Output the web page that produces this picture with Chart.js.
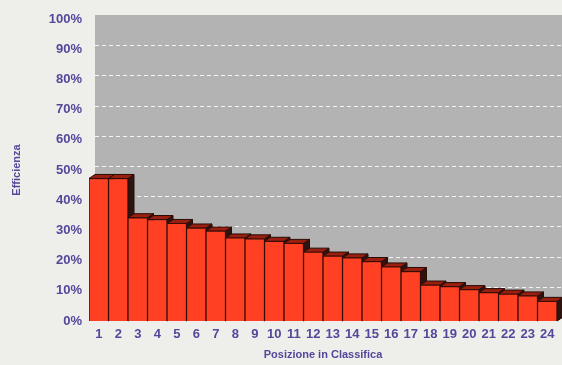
<!DOCTYPE html>
<html>
<head>
<meta charset="utf-8">
<script src="https://cdn.jsdelivr.net/npm/chart.js@4"></script>
<style>
  body { margin: 0; background: #eeeeeb; }
  #wrap { width: 562px; height: 365px; }
</style>
</head>
<body>
<div id="wrap"><canvas id="myChart"></canvas></div>
<script>
// positions in classifica
var categories = ['1','2','3','4','5','6','7','8','9','10','11','12','13','14','15','16','17','18','19','20','21','22','23','24'];
// efficienza (%)
var efficienza = [47.2, 47.2, 34.2, 33.6, 32.3, 30.8, 29.8, 27.5, 27.2, 26.4, 25.7, 22.8, 21.5, 20.9, 19.7, 17.9, 16.4, 11.9, 11.4, 10.4, 9.4, 8.9, 8.3, 6.5];
var yTicks = [0, 10, 20, 30, 40, 50, 60, 70, 80, 90, 100];

var DX = 6, DY = 4;
var textColor = '#54479a';

// back wall, floor and 3d faces of the bars
var depth3d = {
  id: 'depth3d',
  beforeDatasetsDraw: function(chart){
    var ctx = chart.ctx, ca = chart.chartArea, ys = chart.scales.y;
    ctx.save();
    ctx.fillStyle = '#b3b3b3';
    ctx.fillRect(ca.left + DX, ca.top - DY, ca.right - ca.left, ca.bottom - ca.top);
    ctx.strokeStyle = 'rgba(255,255,255,0.85)';
    ctx.lineWidth = 1;
    ctx.setLineDash([4, 3]);
    yTicks.forEach(function(v){
      if (v == 0 || v == 100) return;
      var y = Math.round(ys.getPixelForValue(v) - DY) + 0.5;
      ctx.beginPath();
      ctx.moveTo(ca.left + DX, y);
      ctx.lineTo(ca.right + DX, y);
      ctx.stroke();
    });
    ctx.setLineDash([]);
    // floor
    ctx.fillStyle = '#3a2a26';
    ctx.beginPath();
    ctx.moveTo(ca.left, ca.bottom);
    ctx.lineTo(ca.left + DX, ca.bottom - DY);
    ctx.lineTo(ca.right + DX, ca.bottom - DY);
    ctx.lineTo(ca.right, ca.bottom);
    ctx.closePath();
    ctx.fill();

    var meta = chart.getDatasetMeta(0);
    ctx.strokeStyle = '#2a0c06';
    meta.data.forEach(function(bar){
      var l = bar.x - bar.width / 2, r = bar.x + bar.width / 2, t = bar.y, b = bar.base;
      // side
      ctx.fillStyle = '#2e1410';
      ctx.beginPath();
      ctx.moveTo(r, t);
      ctx.lineTo(r + DX, t - DY);
      ctx.lineTo(r + DX, b - DY);
      ctx.lineTo(r, b);
      ctx.closePath();
      ctx.fill();
      ctx.stroke();
      // top
      ctx.fillStyle = '#9a1f10';
      ctx.beginPath();
      ctx.moveTo(l, t);
      ctx.lineTo(l + DX, t - DY);
      ctx.lineTo(r + DX, t - DY);
      ctx.lineTo(r, t);
      ctx.closePath();
      ctx.fill();
      ctx.stroke();
    });
    ctx.restore();
  }
};

var ctx = document.getElementById('myChart').getContext('2d');
var myChart = new Chart(ctx, {
  type: 'bar',
  data: {
    labels: categories,
    datasets: [{
      label: 'Efficienza',
      data: efficienza,
      backgroundColor: '#ff4022',
      borderColor: '#3a0e06',
      borderWidth: 1,
      categoryPercentage: 1,
      barPercentage: 1
    }]
  },
  options: {
    responsive: true,
    maintainAspectRatio: false,
    animation: false,
    layout: { padding: { top: 19, right: 5, bottom: 0, left: 0 } },
    plugins: {
      legend: { display: false },
      tooltip: { enabled: false }
    },
    scales: {
      x: {
        grid: { display: false, drawTicks: false },
        border: { display: false },
        ticks: { color: textColor, padding: 6, maxRotation: 0, autoSkip: false, font: { family: 'Arial, "Liberation Sans"', size: 13, weight: 'bold' } },
        title: { display: true, text: 'Posizione in Classifica', color: textColor, padding: { top: 0, bottom: 3 }, font: { family: 'Arial, "Liberation Sans"', size: 11, weight: 'bold' } },
        afterFit: function(s){ s.height = 44; }
      },
      y: {
        min: 0,
        max: 100,
        afterBuildTicks: function(s){ s.ticks = yTicks.map(function(v){ return { value: v }; }); },
        grid: { display: false, drawTicks: false },
        border: { display: false },
        ticks: { color: textColor, padding: 7, font: { family: 'Arial, "Liberation Sans"', size: 13, weight: 'bold' },
          callback: function(v){ return v + '%'; } },
        title: { display: true, text: 'Efficienza', color: textColor, padding: { top: 10, bottom: 0 }, font: { family: 'Arial, "Liberation Sans"', size: 11, weight: 'bold' } },
        afterFit: function(s){ s.width = 89; }
      }
    }
  },
  plugins: [depth3d]
});
</script>
</body>
</html>
